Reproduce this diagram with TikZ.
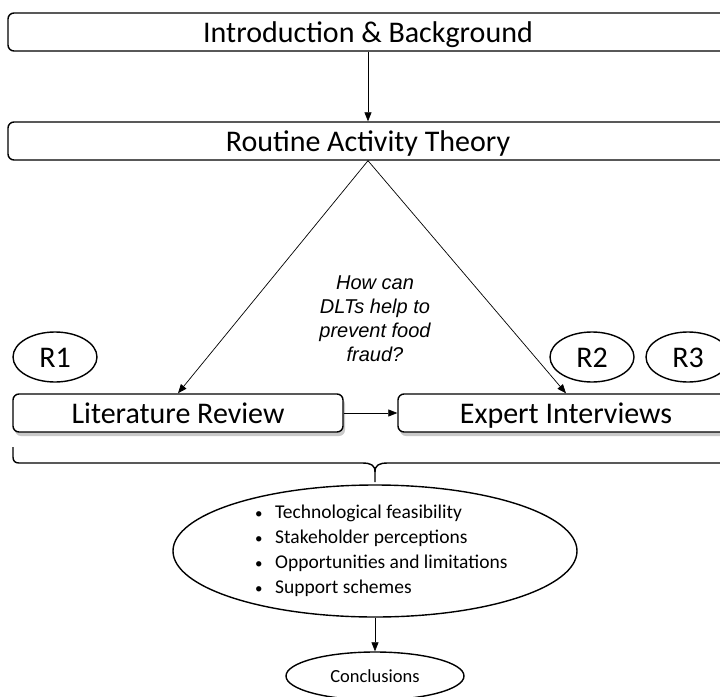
\documentclass[tikz,border=0pt]{standalone}
\usepackage{fontspec}
\setmainfont{Carlito}
\newfontfamily\qfont{Liberation Sans}
\usetikzlibrary{arrows.meta,shapes.geometric,shadows}
\begin{document}
\begin{tikzpicture}[x=1pt,y=-1pt,
  bigtext/.style={font=\fontsize{30}{32}\selectfont, text height=20pt, text depth=0pt},
  box/.style={draw, line width=1.4pt, rounded corners=6pt, minimum height=38pt,
    inner sep=0pt, fill=white, bigtext},
  shbox/.style={box, drop shadow={shadow xshift=2pt, shadow yshift=-4pt, opacity=0.3, fill=black!70}},
  oval/.style={draw, ellipse, line width=1.4pt, inner sep=0pt, fill=white},
  roval/.style={oval, minimum width=84pt, minimum height=50pt, bigtext},
  conn/.style={line width=0.7pt, -{Triangle[length=9pt,width=7pt]}},
  bracestyle/.style={line width=1.4pt},
  bul/.style={}]
\useasboundingbox (0,0) rectangle (720,696);

\node[box, minimum width=720pt] (intro) at (368,32) {Introduction \& Background};
\node[box, minimum width=720pt] (rat) at (368,141) {Routine Activity Theory};

\node[shbox, minimum width=330pt] (lit) at (178,413) {Literature Review};
\node[shbox, minimum width=336pt] (exp) at (566,413) {Expert Interviews};

\node[roval] (r1) at (55,357) {R1};
\node[roval] (r2) at (592,357) {R2};
\node[roval] (r3) at (688,357) {R3};

\node[font=\qfont\itshape\fontsize{20}{24}\selectfont, align=center, inner sep=0pt] (q) at (375,319)
  {How can\\DLTs help to\\prevent food\\fraud?};

\draw[conn] (intro) -- (rat);
\draw[conn] (rat.south) -- (lit.north);
\draw[conn] (rat.south) -- (exp.north);
\draw[conn] (lit) -- (exp);

% brace
\coordinate (bl) at (13,447);
\coordinate (bc) at (375,482);
\coordinate (br) at (740,463);
\draw[bracestyle] (bl) -- (13,457) .. controls (13,461) and (15,463) .. (19,463) -- (362,463)
  .. controls (371,463) and (375,465) .. (375,472) -- (bc);
\draw[bracestyle] (br) -- (388,463) .. controls (379,463) and (375,465) .. (375,472);

\node[oval, minimum width=404pt, minimum height=132pt] (sum) at (375,551) {};
\node[anchor=west, align=left, inner sep=0pt, font=\fontsize{19.5}{25}\selectfont] (sumtext) at (255,551)
  {\makebox[20pt][l]{\fontsize{15}{15}\selectfont\textbullet}Technological feasibility\\
   \makebox[20pt][l]{\fontsize{15}{15}\selectfont\textbullet}Stakeholder perceptions\\
   \makebox[20pt][l]{\fontsize{15}{15}\selectfont\textbullet}Opportunities and limitations\\
   \makebox[20pt][l]{\fontsize{15}{15}\selectfont\textbullet}Support schemes};

\node[oval, minimum width=178pt, minimum height=48pt, font=\fontsize{18.5}{22}\selectfont,
  text height=12pt, text depth=0pt] (concl) at (375,676) {Conclusions};
\draw[conn] (sum) -- (concl);
\end{tikzpicture}
\end{document}
